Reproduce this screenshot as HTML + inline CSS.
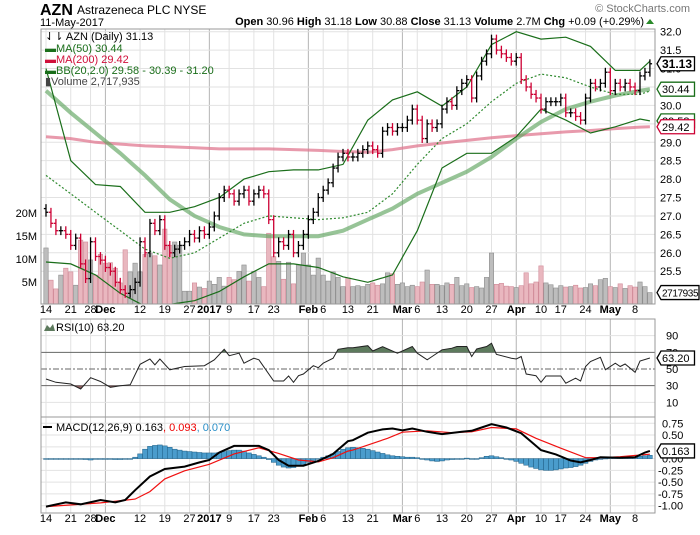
<!DOCTYPE html>
<html><head><meta charset="utf-8">
<style>
body{margin:0;background:#fff;width:700px;height:530px;overflow:hidden;font-family:"Liberation Sans",sans-serif;}
svg text{font-family:"Liberation Sans",sans-serif;}
</style></head>
<body>
<svg id="chart" width="700" height="530" viewBox="0 0 700 530" xmlns="http://www.w3.org/2000/svg">
<defs><clipPath id="mainClip"><rect x="41" y="29" width="614" height="275"/></clipPath>
<clipPath id="rsiClip"><rect x="41" y="319" width="614" height="98"/></clipPath>
<clipPath id="macdClip"><rect x="41" y="417" width="614" height="96"/></clipPath></defs>
<g>
<text x="40" y="15" font-size="16" font-weight="bold" fill="#000">AZN</text>
<text x="77" y="14" font-size="12" fill="#000">Astrazeneca PLC  NYSE</text>
<text x="40" y="26" font-size="11" fill="#000">11-May-2017</text>
<text x="690" y="12" font-size="11" fill="#777" text-anchor="end">© StockCharts.com</text>
<text x="644" y="25" font-size="11" text-anchor="end" fill="#000"><tspan font-weight="bold">Open</tspan> 30.96  <tspan font-weight="bold">High</tspan> 31.18  <tspan font-weight="bold">Low</tspan> 30.88  <tspan font-weight="bold">Close</tspan> 31.13  <tspan font-weight="bold">Volume</tspan> 2.7M  <tspan font-weight="bold">Chg</tspan> +0.09 (+0.29%)</text>
<polygon points="646,24 654,24 650,19" fill="#2a8a2a"/>
</g>
<g id="grid"></g>
<g id="vol" clip-path="url(#mainClip)"></g>
<g id="lines" clip-path="url(#mainClip)"></g>
<g id="bars" clip-path="url(#mainClip)"></g>
<g id="rsi" clip-path="url(#rsiClip)"></g>
<g id="macd" clip-path="url(#macdClip)"></g>
<g id="axes"></g>
<g font-size="11">
<text x="45" y="40" fill="#000">⇃⇂ AZN (Daily) 31.13</text>
<text x="45" y="52" fill="#1a6e1a">▬MA(50) 30.44</text>
<text x="45" y="63" fill="#d0103a">▬MA(200) 29.42</text>
<text x="45" y="74" fill="#1a6e1a">▬BB(20,2.0) 29.58 - 30.39 - 31.20</text>
<text x="45" y="85" fill="#444">▮Volume 2,717,935</text>
</g>
<g><polygon points="44,331 47,325 50,328 53,324 55,331" fill="#5d7a5d"/><text x="56" y="331" font-size="11" fill="#000">RSI(10) 63.20</text></g>
<g><rect x="43" y="426" width="9" height="2" fill="#000"/><text x="56" y="431" font-size="11" fill="#000">MACD(12,26,9) 0.163<tspan fill="#e00">, 0.093</tspan><tspan fill="#2a8fc8">, 0.070</tspan></text></g>
</svg>
<script>
const closes=[27.1,26.8,26.6,26.6,26.5,26.2,26.4,25.7,25.3,26.3,25.9,25.8,25.6,25.5,25.2,25.0,24.9,25.0,25.2,26.3,26.0,26.8,26.6,26.9,26.2,26.0,26.1,26.2,26.3,26.5,26.4,26.6,26.5,26.7,27.0,27.5,27.7,27.6,27.4,27.6,27.7,27.4,27.6,27.7,27.6,26.9,26.0,26.3,26.2,26.5,26.0,26.2,26.5,26.9,27.1,27.5,27.7,27.9,28.3,28.6,28.7,28.6,28.6,28.7,28.8,28.9,28.8,28.7,29.3,29.4,29.3,29.4,29.4,29.6,29.9,29.6,29.1,29.5,29.4,29.5,29.9,30.1,30.0,30.4,30.6,30.7,30.2,30.8,31.2,31.4,31.8,31.5,31.4,31.3,31.2,31.3,30.7,30.5,30.3,30.2,29.9,30.1,30.1,30.1,30.2,29.8,29.8,29.7,29.6,30.2,30.6,30.5,30.6,30.9,30.4,30.6,30.5,30.6,30.5,30.4,30.8,30.9,31.13];
const volumes=[12.4,5.4,3.5,6.5,8,7.2,4.3,14.1,13.7,9.8,6.5,11,9.1,9.2,8,4.8,12,7.2,9.1,7.2,11,11.3,10.7,8.7,16.5,13,13.7,13,3,3,4.8,3.9,3.6,5.2,4.5,6,4.1,6,5.5,7.3,8.7,5.2,7.3,6,4,15.6,10.5,9.5,5.6,9.3,4.6,8.7,11.3,8.7,6.5,10.2,6.5,5.2,7.2,6,4,5.9,4,4.2,4,4.5,4.8,4.3,4.6,7,6.8,4.5,4.8,4,4.3,4,5,7.6,4.5,4.5,4.2,4.8,4.5,6,4.2,4.6,3.8,4,3.7,6,11.3,4.5,4.7,4.1,4,3.8,4.2,7,4.6,5,8.5,4.8,4.4,3.7,4.2,3.9,4,4.3,3.7,3.8,4.6,4.2,5.5,5.8,4,3.8,4.6,3.6,4.2,3.9,5,4,2.7];
const sampleIdx=[0,5,10,15,20,25,30,35,40,45,50,55,60,65,70,75,80,85,90,95,100,105,110,115,120,122];
const ma50=[30.4,29.8,29.25,28.7,28.1,27.45,27.0,26.7,26.5,26.45,26.45,26.45,26.6,26.9,27.2,27.6,27.9,28.2,28.6,29.1,29.55,29.9,30.1,30.27,30.4,30.44];
const ma200=[29.15,29.1,29.0,28.95,28.9,28.88,28.85,28.82,28.82,28.82,28.8,28.78,28.75,28.73,28.8,28.9,28.98,29.05,29.12,29.18,29.23,29.28,29.32,29.37,29.41,29.42];
const bbUpper=[31.0,28.5,27.85,27.8,27.1,27.1,27.25,27.5,28.0,28.2,28.25,28.25,28.4,29.6,30.15,30.37,29.98,30.5,31.65,32.0,31.8,31.85,31.6,30.95,30.95,31.2];
const bbMiddle=[28.1,27.6,27.1,26.6,26.1,25.85,26.0,26.4,26.8,27.0,26.95,26.9,26.95,27.1,27.6,28.4,29.1,29.5,30.1,30.6,30.85,30.75,30.5,30.3,30.3,30.39];
const bbLower=[25.75,25.7,25.4,24.9,24.55,24.6,24.7,24.95,25.35,25.7,25.7,25.6,25.35,25.2,25.4,26.6,28.3,28.7,28.7,29.15,29.9,29.6,29.25,29.42,29.63,29.58];
const rsiIdx=[0,2,5,7,9,11,13,15,17,19,21,22,23,25,28,32,34,36,37,39,40,42,43,46,48,49,50,51,52,54,55,56,58,59,61,62,65,66,68,71,74,75,77,78,80,82,83,85,86,87,89,90,91,94,95,96,97,99,100,101,104,105,107,108,109,110,112,113,115,116,117,119,120,122];
const rsiValues=[38,34,32,26,39.6,35,28,30,31,55.6,62,55,62,49,53,54,61,73.6,66,69,57,63,61,35.6,35.6,41.6,34,42,44,54,51.6,57,63,73.6,75.6,75.6,78,71.6,76.8,69,77,69,61,65,73,75,77,77,65,74,77,81,67.6,63,62,65,44,42,34,41.6,41.6,33,39,35.6,53,59,64,49,57,53,56,46,59.6,63.2];
const macdIdx=[0,4,7,11,14,16,18,21,24,28,31,33,35,38,43,45,47,49,52,55,58,61,62,65,68,70,72,74,77,80,84,86,88,90,93,96,98,100,103,106,108,110,112,116,119,121,122];
const macdValues=[-1.02,-0.93,-0.97,-0.88,-0.93,-0.88,-0.67,-0.38,-0.22,-0.17,-0.08,-0.03,0.13,0.27,0.27,0.18,-0.03,-0.15,-0.15,-0.05,0.1,0.37,0.39,0.55,0.62,0.64,0.6,0.64,0.57,0.52,0.57,0.59,0.66,0.73,0.66,0.54,0.36,0.18,0.09,-0.04,-0.08,-0.03,0.03,0.02,0.03,0.13,0.163];
const signalIdx=[0,11,18,21,24,28,33,38,43,47,51,55,58,61,62,69,72,77,82,86,90,95,99,104,109,112,116,122];
const signalValues=[-1.02,-0.94,-0.86,-0.7,-0.43,-0.26,-0.12,0.1,0.23,0.11,-0.03,-0.07,0.02,0.16,0.18,0.43,0.56,0.59,0.55,0.57,0.66,0.63,0.43,0.22,0.02,0.02,0.04,0.093];
const histValues=[0,0,0,0,0,0,0,0,-0.02,-0.03,-0.01,0,0,0,-0.02,-0.02,0,0,0.03,0.1,0.2,0.26,0.28,0.29,0.27,0.24,0.2,0.18,0.16,0.15,0.14,0.13,0.12,0.12,0.12,0.13,0.15,0.17,0.18,0.18,0.16,0.12,0.09,0.06,0.03,-0.02,-0.08,-0.14,-0.18,-0.2,-0.19,-0.16,-0.12,-0.08,-0.04,0,0.03,0.06,0.1,0.15,0.2,0.23,0.24,0.23,0.22,0.2,0.17,0.14,0.11,0.08,0.06,0.05,0.04,0.03,0.03,0.02,0,-0.03,-0.05,-0.06,-0.05,-0.03,-0.02,0,0,0.01,0,0,0.02,0.05,0.06,0.04,0.02,0,-0.03,-0.06,-0.1,-0.14,-0.18,-0.21,-0.24,-0.25,-0.25,-0.24,-0.22,-0.2,-0.19,-0.17,-0.14,-0.1,-0.06,-0.03,0,0.01,0.02,0.02,0.03,0.03,0.02,0.03,0.05,0.06,0.07];
const dateLabels=["14","21","28","Dec","12","19","27","2017","9","17","23","Feb","6","13","21","Mar","6","13","20","27","Apr","10","17","24","May","8"];
const dateLabelIdx=[0,5,9,12,19,24,29,33,37,42,46,53,56,61,66,72,75,80,85,90,95,100,104,109,114,119];
const priceTicks=[32.0,31.5,31.0,30.5,30.0,29.5,29.0,28.5,28.0,27.5,27.0,26.5,26.0,25.5];
const volTicks=[20,15,10,5];
const rsiTicks=[90,70,50,30,10];
const macdTicks=[0.75,0.5,0.25,0,-0.25,-0.5,-0.75,-1.0];

const NS="http://www.w3.org/2000/svg";
const L=41,R=655;
const px=i=>46+4.95*i;
const py=p=>31.7+(32-p)*36.85;
const vy=m=>305-m*4.6;
const ry=r=>369-(r-50)*0.833;
const my=v=>458.6-v*47.1;
function mk(tag,attrs,parent){const e=document.createElementNS(NS,tag);for(const k in attrs)e.setAttribute(k,attrs[k]);parent.appendChild(e);return e;}
const G=id=>document.getElementById(id);
const grid=G('grid'),axes=G('axes');

[[29,304],[319,417],[417,513]].forEach((p,k)=>{
  const r=mk('rect',{x:L,y:p[0],width:R-L,height:p[1]-p[0],fill:'none',stroke:'#999','stroke-width':1},axes);
  
  
});
const bold=new Set(["Dec","2017","Feb","Mar","Apr","May"]);
dateLabels.forEach((lab,k)=>{
  const x=px(dateLabelIdx[k]);
  const major=bold.has(lab);
  [[29,304],[319,513]].forEach(s=>{
    const l=mk('line',{x1:x,x2:x,y1:s[0],y2:s[1],stroke:major?'#b4b4b4':'#e2e2e2','stroke-width':1},grid);
    
    
  });
  [313,522].forEach(y=>{
    const t=mk('text',{x:x,y:y,'font-size':11,'text-anchor':'middle',fill:'#000','font-weight':major?'bold':'normal'},axes);
    t.textContent=lab;
    
    
  });
});
priceTicks.forEach(p=>{
  const y=py(p);
  const l=mk('line',{x1:L,x2:R,y1:y,y2:y,stroke:'#e2e2e2'},grid);
  
  
  const t=mk('text',{x:660,y:y+4,'font-size':11,fill:'#000'},axes);
  t.textContent=p.toFixed(1);
  
  
});
volTicks.forEach(m=>{
  const t=mk('text',{x:37,y:vy(m)+4,'font-size':11,'text-anchor':'end',fill:'#000'},axes);
  t.textContent=m+'M';
  
  
});
rsiTicks.forEach(r=>{
  const y=ry(r);
  const style=r===70||r===30?{stroke:'#666'}:r===50?{stroke:'#666','stroke-dasharray':'6,2,2,2'}:{stroke:'#e2e2e2'};
  const l=mk('line',Object.assign({x1:L,x2:R,y1:y,y2:y},style),grid);
  
  
  const t=mk('text',{x:666,y:y+4,'font-size':11,fill:'#000'},axes);
  t.textContent=r;
  
  
});
macdTicks.forEach(v=>{
  const y=my(v);
  const l=mk('line',{x1:L,x2:R,y1:y,y2:y,stroke:'#e2e2e2'},grid);
  
  
  const t=mk('text',{x:v<0?658:662,y:y+4,'font-size':11,fill:'#000'},axes);
  t.textContent=v.toFixed(2);
  
  
});
const vol=G('vol');
volumes.forEach((m,i)=>{
  const down=i>0&&closes[i]<closes[i-1];
  const r=mk('rect',{x:px(i)-2.2,y:vy(m),width:4.4,height:305-vy(m),fill:down?'#e9b7bf':'#bdbdbd',stroke:down?'#d08a98':'#8e8e8e','stroke-width':0.6},vol);
  
  
});
const lines=G('lines');
function path(idx,vals,f,attrs,name,parent){
  const d=idx.map((i,k)=>(k?'L':'M')+px(i).toFixed(1)+','+f(vals[k]).toFixed(1)).join('');
  const p=mk('path',Object.assign({d:d,fill:'none'},attrs),parent);
  
  
  return p;
}
path(sampleIdx,ma200,py,{stroke:'#e07890','stroke-width':3,'stroke-opacity':0.75},'ma200-line',lines);
path(sampleIdx,ma50,py,{stroke:'#5fa55f','stroke-width':4,'stroke-opacity':0.65},'ma50-line',lines);
path(sampleIdx,bbUpper,py,{stroke:'#1a6e1a','stroke-width':1.2},'bb-upper-line',lines);
path(sampleIdx,bbLower,py,{stroke:'#1a6e1a','stroke-width':1.2},'bb-lower-line',lines);
path(sampleIdx,bbMiddle,py,{stroke:'#2f8a2f','stroke-width':1.2,'stroke-dasharray':'2,2'},'bb-middle-line',lines);
const bars=G('bars');
closes.forEach((c,i)=>{
  const o=i?closes[i-1]:c+0.1;
  const hi=Math.max(o,c)+0.12,lo=Math.min(o,c)-0.12;
  const col=(i&&c<closes[i-1])?'#cc0033':'#000';
  const x=px(i);
  const g=mk('g',{stroke:col,'stroke-width':1.3},bars);
  
  
  mk('line',{x1:x,x2:x,y1:py(hi),y2:py(lo)},g);
  mk('line',{x1:x-2.2,x2:x,y1:py(o),y2:py(o)},g);
  mk('line',{x1:x,x2:x+2.2,y1:py(c),y2:py(c)},g);
});
const rsi=G('rsi');
const rd=rsiIdx.map((i,k)=>(k?'L':'M')+px(i).toFixed(1)+','+ry(rsiValues[k]).toFixed(1)).join('');
const c70=mk('clipPath',{id:'above70'},rsi);mk('rect',{x:L,y:319,width:R-L,height:ry(70)-319},c70);
const c30=mk('clipPath',{id:'below30'},rsi);mk('rect',{x:L,y:ry(30),width:R-L,height:417-ry(30)},c30);
const fa=mk('path',{d:rd+'L'+px(122)+','+ry(70)+'L'+px(0)+','+ry(70)+'Z',fill:'#5d7a5d','clip-path':'url(#above70)'},rsi);


const fb=mk('path',{d:rd+'L'+px(122)+','+ry(30)+'L'+px(0)+','+ry(30)+'Z',fill:'#8a5d5d','clip-path':'url(#below30)'},rsi);


path(rsiIdx,rsiValues,ry,{stroke:'#222','stroke-width':1},'rsi-line',rsi);
const macd=G('macd');
histValues.forEach((v,i)=>{
  const y0=my(0),y1=my(v);
  const r=mk('rect',{x:px(i)-2.45,y:Math.min(y0,y1),width:4.9,height:Math.max(0.8,Math.abs(y1-y0)),fill:'#4a9ccc',stroke:'#1f5f85','stroke-width':0.5},macd);
  
  
});
path(signalIdx,signalValues,my,{stroke:'#f01010','stroke-width':1.2},'macd-signal-line',macd);
path(macdIdx,macdValues,my,{stroke:'#000','stroke-width':2},'macd-line',macd);
function tag(y,text,col,bold,name){
  const g=mk('g',{},axes);
  
  
  const w=Math.min(text.length*5.9+4,38);
  mk('polygon',{points:`657,${y} 661,${y-7} ${661+w},${y-7} ${661+w},${y+7} 661,${y+7}`,fill:'#fff',stroke:col,'stroke-width':1.3},g);
  const attrs={x:662,y:y+4,'font-size':bold?12:(text.length>5?10:11),'font-weight':bold?'bold':'normal',fill:'#000'};
  if(text.length>5)attrs['letter-spacing']='-0.4';
  const t=mk('text',attrs,g);
  t.textContent=text;
}
tag(py(29.58),'29.58','#1a6e1a',false,'bb-lower-tag');
tag(py(29.42),'29.42','#cc0033',false,'ma200-tag');
tag(py(30.44),'30.44','#1a6e1a',false,'ma50-tag');
tag(py(31.13),'31.13','#000',true,'close-price-tag');
tag(vy(2.7),'2717935','#000',false,'volume-tag');
tag(ry(63.2),'63.20','#000',false,'rsi-value-tag');
tag(my(0.163),'0.163','#000',false,'macd-value-tag');
</script>
</body></html>
